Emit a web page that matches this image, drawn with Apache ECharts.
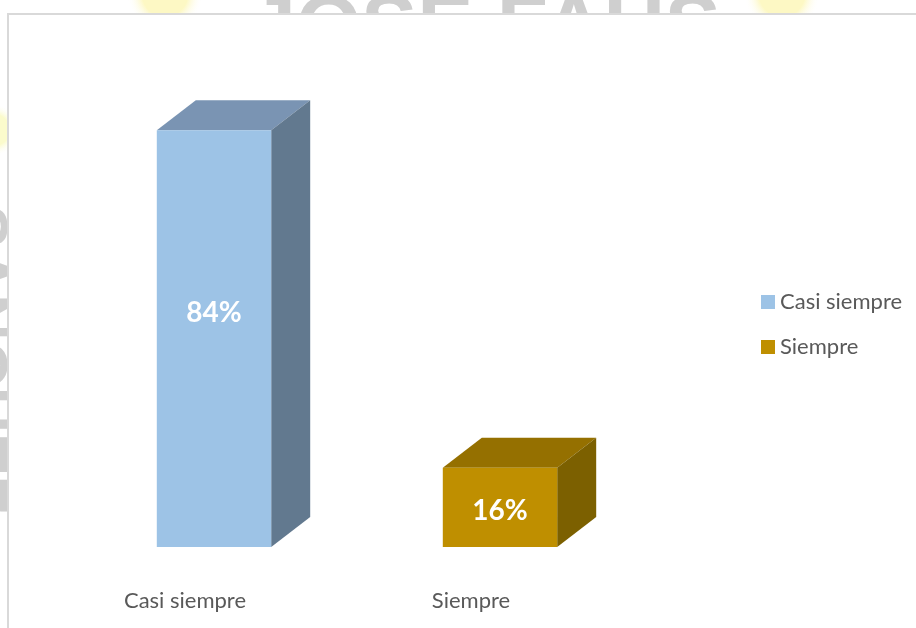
<!DOCTYPE html>
<html><head><meta charset="utf-8">
<style>html,body{margin:0;padding:0;background:#fff}#c{width:916px;height:628px}</style>
<script src="https://cdn.jsdelivr.net/npm/echarts@6/dist/echarts.min.js"></script>
</head><body><div id="c"></div>
<script>
const categories = ['Casi siempre', 'Siempre'];
const seriesNames = ['Casi siempre', 'Siempre'];
const casiSiempre = [84];
const siempre = [16];
const labelAnchors = [47.2, 7.2];
const FONT = 'Lato, "Noto Sans", sans-serif';
const faces = [
  {front:'#9dc3e6', top:'#7a94b3', side:'#62798f'},
  {front:'#bf8f00', top:'#957000', side:'#7c6000'}
];
const DX = 39, DY = 30, SHIFT = 29;
function glow(color){
  return new echarts.graphic.RadialGradient(0.5,0.5,0.5,[
    {offset:0,color:color},{offset:0.6,color:color},{offset:1,color:'rgba(255,255,255,0)'}]);
}
function cube(idx){
  return function(params, api){
    const p = api.coord([api.value(0), api.value(1)]);
    const base = api.coord([api.value(0), 0]);
    const w = api.size([1,0])[0]*0.4;
    const l = p[0]-w/2+SHIFT, r = l+w, t = p[1], b = base[1];
    const f = faces[idx];
    const labelY = api.coord([api.value(0), labelAnchors[idx]])[1];
    return {type:'group', children:[
      {type:'polygon', shape:{points:[[l,t],[l+DX,t-DY],[r+DX,t-DY],[r,t]]}, style:{fill:f.top}},
      {type:'polygon', shape:{points:[[r,t],[r+DX,t-DY],[r+DX,b-DY],[r,b]]}, style:{fill:f.side}},
      {type:'rect', shape:{x:l,y:t,width:w,height:b-t}, style:{fill:f.front}},
      {type:'text', style:{x:(l+r)/2,y:labelY,text:api.value(1)+'%',fill:'#fff',
        font:'bold 28px '+FONT,textAlign:'center',textVerticalAlign:'middle'}}
    ]};
  };
}
const chart = echarts.init(document.getElementById('c'), null, {renderer:'canvas'});
chart.setOption({
  animation:false,
  backgroundColor:'#fff',
  graphic:[
    {type:'circle',z:-30,shape:{cx:165,cy:-6,r:38},style:{fill:glow('#fdf8c4')}},
    {type:'circle',z:-30,shape:{cx:782,cy:-6,r:38},style:{fill:glow('#fdf8c4')}},
    {type:'circle',z:-30,shape:{cx:-6,cy:130,r:26},style:{fill:glow('#fbfbcc')}},
    {type:'text',z:-20,style:{x:485,y:-12,text:'JOSE FAUS',fill:'#cfcfcf',font:'bold 84px "Liberation Sans", sans-serif',textAlign:'center',textVerticalAlign:'top'}},
    {type:'text',z:-20,rotation:-Math.PI/2,x:12,y:360,style:{x:0,y:0,text:'SANCHEZ',fill:'#cfcfcf',font:'bold 64px "Liberation Sans", sans-serif',textAlign:'center',textVerticalAlign:'top'}},
    {type:'rect',z:-10,shape:{x:8,y:14,width:920,height:630},style:{fill:'#fff',stroke:'#d9d9d9',lineWidth:2}}
  ],
  grid:{left:42,width:572,top:51,bottom:81},
  xAxis:{type:'category',data:categories,axisLine:{show:false},axisTick:{show:false},
    axisLabel:{margin:43,fontSize:22,color:'#595959',fontFamily:FONT}},
  yAxis:{type:'value',min:0,max:100,show:false},
  legend:{orient:'vertical',left:756,top:286,padding:5,itemWidth:14,itemHeight:14,itemGap:23,icon:'rect',
    data:seriesNames,selectedMode:false,textStyle:{fontSize:22,color:'#595959',fontFamily:FONT}},
  series:[
    {name:seriesNames[0],type:'custom',renderItem:cube(0),encode:{x:0,y:1},clip:false,
      itemStyle:{color:faces[0].front},data:[[categories[0],casiSiempre[0]]]},
    {name:seriesNames[1],type:'custom',renderItem:cube(1),encode:{x:0,y:1},clip:false,
      itemStyle:{color:faces[1].front},data:[[categories[1],siempre[0]]]}
  ]
});
</script></body></html>
